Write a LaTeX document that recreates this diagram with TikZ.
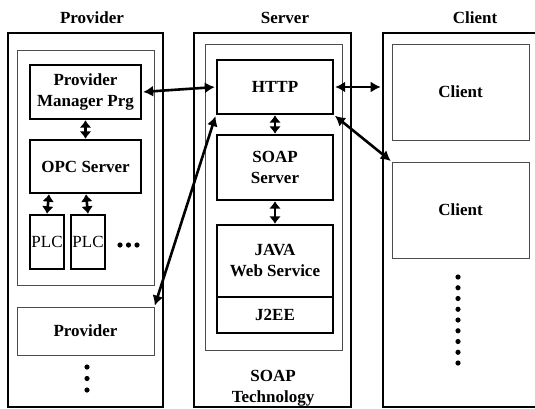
\documentclass[tikz,border=0pt]{standalone}
\usepackage{fontspec}
\setmainfont{Liberation Serif}
\usepackage{tikz}
\usetikzlibrary{
  calc,%
  arrows.meta,
  positioning
}
\tikzset{>={Latex[length=10pt, width=11pt]}}
\tikzset{font=\fontsize{17}{21}\selectfont\bfseries}
\tikzset{
  tier/.style={draw, line width=2.6pt, inner sep=0pt},
  frame/.style={draw=black!70, line width=0.9pt, inner sep=0pt, align=center},
  part/.style={draw, line width=2.4pt, inner sep=0pt, align=center},
  link/.style={<->, line width=2.6pt, shorten <=1pt, shorten >=1pt},
  stack/.style={<->, line width=2.6pt, >={Latex[length=7.5pt, width=12pt]}}
}

\begin{document}
\begin{tikzpicture}[x=1pt, y=-1pt]
  \clip (0,0) rectangle (535,408);
  \fill[white] (0,0) rectangle (535,408);

  % the three tiers
  \node[tier, minimum width=155, minimum height=374] (provtier) at (85.5,220) {};
  \node[tier, minimum width=157, minimum height=374] (servtier) at (272.5,220) {};
  \node[tier, minimum width=162, minimum height=374] (clitier) at (464,220) {};
  \node (provhead) at (92,18) {Provider};
  \node (servhead) at (285,18) {Server};
  \node (clihead) at (475,18) {Client};

  % provider side
  \node[frame, minimum width=137, minimum height=235] (provin) at (85.5,167.5) {};
  \node[part, minimum width=111, minimum height=54] (pmp) at (85.5,92) {Provider\\Manager Prg};
  \node[part, minimum width=111, minimum height=53] (opc) at (85.5,166.5) {OPC Server};
  \node[part, minimum width=34, minimum height=54, font=\fontsize{17}{21}\selectfont] (plc1) at (47,242) {PLC};
  \node[part, minimum width=34, minimum height=54, font=\fontsize{17}{21}\selectfont] (plc2) at (88,242) {PLC};
  \foreach \x in {120,128.5,137}
    \fill (\x,245) circle (2.6pt);
  \node[frame, minimum width=137, minimum height=48] (prov2) at (85.5,331) {Provider};
  \foreach \y in {367,378.5,390}
    \fill (87,\y) circle (2.6pt);

  % server side
  \node[frame, minimum width=137, minimum height=306] (servin) at (273.5,197) {};
  \node[part, minimum width=116, minimum height=54] (http) at (275,87) {HTTP};
  \node[part, minimum width=116, minimum height=65] (soap) at (275,167.5) {SOAP\\Server};
  \node[part, minimum width=116, minimum height=72] (java) at (275,261) {JAVA\\Web Service};
  \node[part, minimum width=116, minimum height=36] (j2ee) at (275,315) {J2EE};
  \node[align=center] (soaptech) at (273,388) {SOAP\\Technology};

  % client side
  \node[frame, minimum width=137, minimum height=96] (cli1) at (460.5,92) {Client};
  \node[frame, minimum width=137, minimum height=96] (cli2) at (460.5,210) {Client};
  \foreach \k in {0,...,8}
    \fill (458,277+10.75*\k) circle (2.6pt);

  % connections
  \draw[stack] (pmp.south) -- (opc.north);
  \draw[stack] ($(opc.south)+(-36.5,0)$) -- (plc1.north);
  \draw[stack] ($(opc.south)+(0.5,0)$) -- (plc2.north);
  \draw[stack] (http.south) -- (soap.north);
  \draw[stack] (soap.south) -- (java.north);
  \draw[link] (pmp.east) -- (http.west);
  \draw[link] (http.east) -- (http.east -| clitier.west);
  \draw[link] (http.south east) -- (cli2.north west);
  \draw[link] (http.south west) -- (prov2.north east);
\end{tikzpicture}
\end{document}
